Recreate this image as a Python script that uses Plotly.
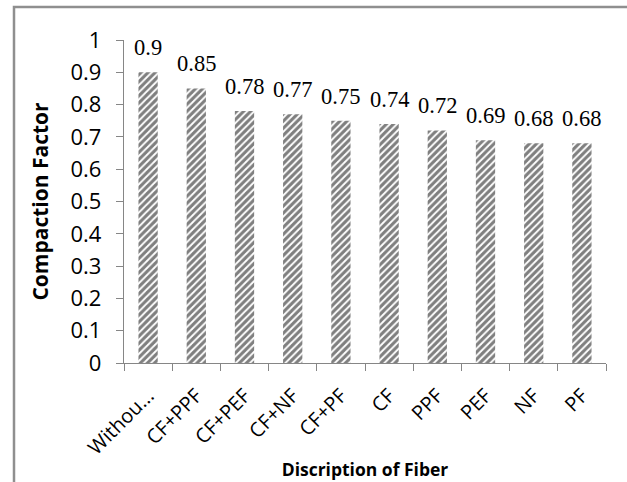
import plotly.graph_objects as go

categories = ["Withou...", "CF+PPF", "CF+PEF", "CF+NF", "CF+PF", "CF", "PPF", "PEF", "NF", "PF"]
values = [0.9, 0.85, 0.78, 0.77, 0.75, 0.74, 0.72, 0.69, 0.68, 0.68]
value_labels = ["0.9", "0.85", "0.78", "0.77", "0.75", "0.74", "0.72", "0.69", "0.68", "0.68"]
y_ticks = [0, 0.1, 0.2, 0.3, 0.4, 0.5, 0.6, 0.7, 0.8, 0.9, 1]
y_tick_text = ["0", "0.1", "0.2", "0.3", "0.4", "0.5", "0.6", "0.7", "0.8", "0.9", "1"]

W, H = 627, 482
L, R, T, B = 124, 21, 40, 119

fig = go.Figure()
fig.add_trace(go.Bar(
    x=categories, y=values,
    marker=dict(
        color="white",
        line=dict(width=0),
        pattern=dict(shape="/", fgcolor="#000000", bgcolor="white", size=5, solidity=0.62),
    ),
    width=0.4,
    hoverinfo="skip",
))

for c, v, t in zip(categories, values, value_labels):
    fig.add_annotation(
        x=c, y=v, text=t, showarrow=False, yanchor="bottom", yshift=10,
        font=dict(family="Liberation Serif, Times New Roman, serif", size=22.5, color="black"),
    )

axis_color = "#868686"
fig.update_layout(
    width=W, height=H,
    margin=dict(l=L, r=R, t=T, b=B, autoexpand=False),
    paper_bgcolor="white", plot_bgcolor="white",
    showlegend=False,
    xaxis=dict(
        showline=True, linecolor=axis_color, linewidth=1.3,
        ticks="outside", tickson="boundaries", ticklen=7, tickcolor=axis_color, tickwidth=1.3,
        tickangle=-45, ticklabelstandoff=12,
        tickfont=dict(family="Open Sans, sans-serif", size=20, color="black"),
        title=dict(text="<b>Discription of Fiber</b>", standoff=4,
                   font=dict(family="Open Sans, sans-serif", size=17.5, color="black")),
        showgrid=False,
    ),
    yaxis=dict(
        range=[0, 1], tickvals=y_ticks, ticktext=y_tick_text,
        showline=True, linecolor=axis_color, linewidth=1.3,
        ticks="outside", ticklen=7, tickcolor=axis_color, tickwidth=1.3,
        ticklabelstandoff=10,
        tickfont=dict(family="Open Sans, sans-serif", size=22, color="black"),
        title=dict(text="<b>Compaction Factor</b>", standoff=16,
                   font=dict(family="Open Sans, sans-serif", size=21, color="black")),
        showgrid=False, zeroline=False,
    ),
)

# outer chart frame (left and top edges visible)
pw, ph = W - L - R, H - T - B
def px(xp):
    return (xp - L) / pw
def py(yp):
    return (H - B - yp) / ph
fig.add_shape(type="path", xref="paper", yref="paper",
              path=f"M {px(14)} {py(H + 5)} L {px(14)} {py(7)} L {px(W + 5)} {py(7)}",
              line=dict(color="#8f8f8f", width=2.5))

fig.write_html("out.html")
